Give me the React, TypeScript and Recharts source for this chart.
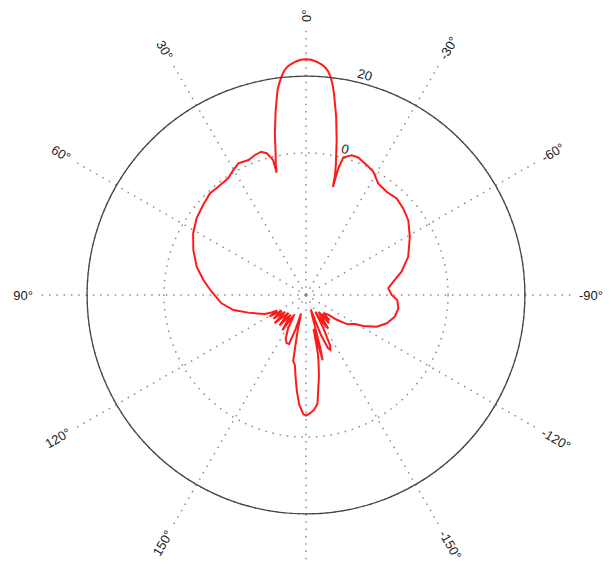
import React from 'react';
import { RadarChart, Radar, PolarGrid, PolarAngleAxis, PolarRadiusAxis } from 'recharts';

// angle in degrees (0 = broadside, positive to the left), gain in dB
const angles = [
  -180, -178, -176, -174, -172.5, -171, -169.5, -168.5, -167.3, -166.3, -165.6, -164.8,
  -163.5, -161.5, -159.5, -157.5, -156, -154.5, -152.5, -150.5, -148.5, -146.5, -145, -143,
  -141, -139, -137, -135.5, -134, -131, -129.2, -125.3, -122.5, -120.6, -118.4, -114.2,
  -109.3, -103.7, -98.2, -93.1, -90, -85.3, -81.3, -76.3, -69.5, -60.7, -53.8, -48.3,
  -43.2, -38, -32.9, -28.6, -25, -20.8, -18.1, -15.2, -14.3, -14, -13.6, -12.8,
  -11.2, -9.6, -7.9, -7.1, -6.3, -5.6, -4.8, -3.8, -2.6, -1.3, 0, 1.3,
  2.6, 3.8, 4.8, 5.6, 6.3, 7.1, 7.9, 9.3, 10.9, 12.1, 13, 13.5,
  13.7, 15.5, 17.4, 20, 23.1, 27.2, 30.2, 33.7, 39, 43.3, 48.8, 54.9,
  61.3, 68.2, 75.5, 81.7, 88, 95.6, 101.7, 107, 112, 114.9, 116.5, 118,
  120.5, 123, 126, 129, 132, 135.5, 139, 142.5, 146, 149, 152, 155,
  158, 161, 163, 165, 167, 169, 171, 173, 174.5, 176.5, 178.7, 180,
];

const gainDb = [
  -5.6, -6.2, -7, -8.5, -12.5, -15.5, -19, -21.5, -28, -24, -19.5, -23,
  -31, -33, -26, -22, -21.4, -22.5, -27, -32, -28, -26.5, -30, -31.5,
  -27.5, -30.5, -28, -30.5, -30, -29, -27, -23.8, -23, -22.2, -20, -16.8,
  -14.7, -13.2, -12.7, -13.2, -14.7, -15.5, -14, -11.4, -8.6, -6, -4, -3.1,
  -2.5, -2.9, -2.4, -0.4, 0.35, 1.3, 1.3, 0.15, -3, -8, -4.85, -1.8,
  4.1, 10.1, 16, 18.5, 20.4, 21.6, 22.5, 23.2, 23.8, 24.25, 24.4, 24.25,
  23.8, 23.2, 22.5, 21.6, 20.4, 18.8, 16.9, 11.8, 5.9, 0.7, -2, -4.25,
  -0.8, 1.3, 2.1, 1.8, 1.2, 1.55, 0.65, -0.5, -0.7, -0.6, -1.4, -2.2,
  -3.5, -5.4, -7.6, -10, -12.4, -14.9, -17.7, -21.3, -24, -25.2, -26.6, -28.5,
  -26, -29.5, -26.5, -30, -26, -30.5, -26.5, -30.5, -26, -31, -27, -24.5,
  -23.5, -23.5, -27.5, -32, -27, -19.5, -18.5, -15, -12, -8.3, -6, -5.6,
];

const angleTicks = [-150, -120, -90, -60, -30, 0, 30, 60, 90, 120, 150, 180];
const radiusTicks = [0, 20];
const radiusDomain = [-37, 32];

const data = angles.map((a, i) => ({ angle: a, gain: gainDb[i] }));

const CX = 306;
const CY = 295;
const OUTER = 265;
const LABEL_R = 273;
const RADIUS_LABEL_ANGLE = 75;
const FONT = '"Liberation Sans", Arial, Helvetica, sans-serif';

const AngleTick = (props: any) => {
  const { payload } = props;
  const v = payload.value;
  // the 180° label falls below the visible area in the original figure
  if (v === 180 || v === -180) return <g />;
  const rad = (payload.coordinate * Math.PI) / 180;
  const x = CX + LABEL_R * Math.cos(rad);
  const y = CY - LABEL_R * Math.sin(rad);
  const leftSide = v > 0;
  const rot = leftSide ? 90 - v : -90 - v;
  return (
    <text
      x={x}
      y={y}
      textAnchor={leftSide ? 'end' : 'start'}
      dominantBaseline="central"
      transform={`rotate(${rot}, ${x}, ${y})`}
      fontSize={13}
      fontFamily={FONT}
      fill="#1a1a1a"
    >
      {`${v}°`}
    </text>
  );
};

const RadiusTick = (props: any) => {
  const { payload } = props;
  const r = payload.coordinate;
  const rad = (RADIUS_LABEL_ANGLE * Math.PI) / 180;
  const x = CX + (r + 9) * Math.cos(rad);
  const y = CY - (r + 9) * Math.sin(rad);
  return (
    <g>
      {payload.value === 20 && (
        <circle cx={CX} cy={CY} r={r} fill="none" stroke="#444" strokeWidth={1.3} />
      )}
      <text
        x={x}
        y={y}
        textAnchor="middle"
        dominantBaseline="central"
        transform={`rotate(${90 - RADIUS_LABEL_ANGLE}, ${x}, ${y})`}
        fontSize={13}
        fontFamily={FONT}
        fill="#1a1a1a"
      >
        {payload.value}
      </text>
    </g>
  );
};

export default function App() {
  return (
    <div style={{ position: 'absolute', left: 0, top: 0, width: 611, height: 568, background: '#fff' }}>
      <RadarChart
        width={611}
        height={568}
        data={data}
        cx={CX}
        cy={CY}
        outerRadius={OUTER}
        startAngle={-90}
        endAngle={270}
        margin={{ top: 0, right: 0, bottom: 0, left: 0 }}
      >
        <PolarGrid
          gridType="circle"
          stroke="#8a8a8a"
          strokeWidth={1.5}
          strokeDasharray="1.5 5.8"
        />
        <PolarAngleAxis
          dataKey="angle"
          type="number"
          domain={[-180, 180]}
          ticks={angleTicks}
          axisLine={false}
          tickLine={false}
          tick={<AngleTick />}
        />
        <PolarRadiusAxis
          type="number"
          angle={RADIUS_LABEL_ANGLE}
          domain={radiusDomain}
          ticks={radiusTicks}
          axisLine={false}
          tickLine={false}
          tick={<RadiusTick />}
        />
        <Radar
          dataKey="gain"
          stroke="#ff1a1a"
          strokeWidth={2}
          fill="none"
          fillOpacity={0}
          dot={false}
          isAnimationActive={false}
        />
      </RadarChart>
    </div>
  );
}
